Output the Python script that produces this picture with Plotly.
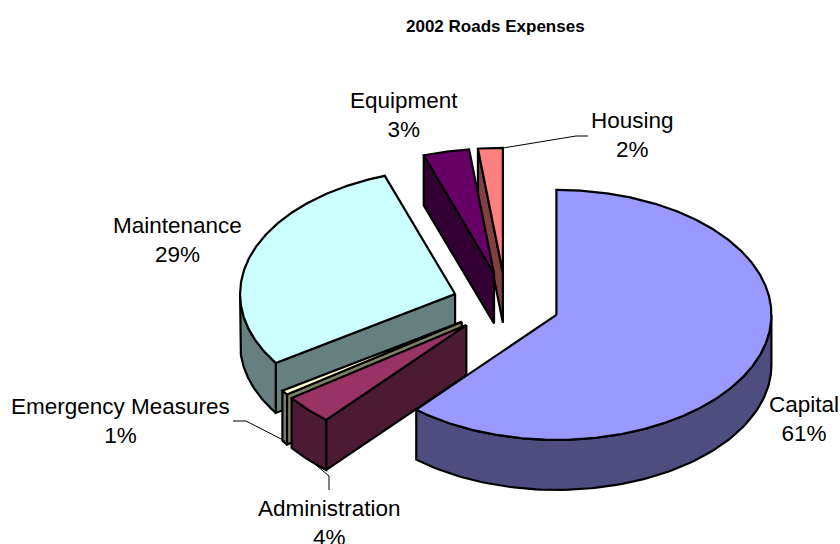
import numpy as np
import plotly.graph_objects as go

categories = ["Capital", "Administration", "Emergency Measures", "Maintenance", "Equipment", "Housing"]
shares = [61.3, 3.8, 0.6, 29.0, 3.45, 1.85]
top_colors = ["#9999FF", "#993366", "#FFFFCC", "#CCFFFF", "#660066", "#FF8080"]
side_colors = ["#4D4D80", "#4D1A33", "#808066", "#668080", "#330033", "#804040"]
draw_order = ["Housing", "Equipment", "Maintenance", "Emergency Measures", "Administration", "Capital"]

label_pos = {"Capital": (804, 419), "Administration": (329, 523), "Emergency Measures": (120, 421),
             "Maintenance": (177, 240), "Equipment": (404, 115), "Housing": (632, 135)}
leaders = {"Housing": ([503, 576, 588], [148, 136, 136]),
           "Emergency Measures": ([233, 246, 285], [421, 421, 441]),
           "Administration": ([329, 329, 310], [490, 476, 460])}

CX, CY, RX, RY, DEPTH, EXPLODE = 506, 304, 215, 125, 50, 0.25

fig = go.Figure()


def poly(xs, ys, color, name):
    fig.add_trace(go.Scatter(x=list(xs), y=list(ys), mode="lines", fill="toself", fillcolor=color,
                             line=dict(color="black", width=2.2), name=name, hoverinfo="name"))


def ell(ax, ay, deg):
    t = np.radians(deg)
    return ax + RX * np.sin(t), ay - RY * np.cos(t)


bounds = np.cumsum([0] + shares) / sum(shares) * 360
index = {c: i for i, c in enumerate(categories)}

for cat in draw_order:
    i = index[cat]
    a0, a1 = bounds[i], bounds[i + 1]
    mid = (a0 + a1) / 2
    ax = CX + EXPLODE * RX * np.sin(np.radians(mid))
    ay = CY - EXPLODE * RY * np.cos(np.radians(mid))
    # radial walls (only those whose interior lies above the edge on screen)
    for edge, inner in ((a0, a0 + 0.5), (a1, a1 - 0.5)):
        px, py = ell(ax, ay, edge)
        mx, my = ell(ax, ay, inner)
        ex, ey = px - ax, py - ay
        down = ex * 1
        inside = ex * (my - ay) - ey * (mx - ax)
        if down * inside < 0 and abs(ex) > 0.5:
            poly([ax, px, px, ax, ax], [ay, py, py + DEPTH, ay + DEPTH, ay], side_colors[i], cat)
    # rim wall: the part of the arc that faces the viewer
    lo, hi = max(a0, 90), min(a1, 270)
    if hi > lo:
        th = np.linspace(lo, hi, 90)
        rx_, ry_ = ell(ax, ay, th)
        poly(np.r_[rx_, rx_[::-1], rx_[0]], np.r_[ry_, ry_[::-1] + DEPTH, ry_[0]], side_colors[i], cat)
    # top face
    th = np.linspace(a0, a1, max(8, int((a1 - a0) * 2)))
    tx, ty = ell(ax, ay, th)
    poly(np.r_[ax, tx, ax], np.r_[ay, ty, ay], top_colors[i], cat)

for cat, (lx, ly) in leaders.items():
    fig.add_trace(go.Scatter(x=lx, y=ly, mode="lines", line=dict(color="black", width=1), hoverinfo="skip"))

for cat, share in zip(categories, shares):
    x, y = label_pos[cat]
    fig.add_annotation(x=x, y=y, text=f"{cat}<br>{round(share)}%", showarrow=False, align="center",
                       font=dict(family="Liberation Sans, Arial", size=22.5, color="black"))

fig.add_annotation(x=495, y=26, text="<b>2002 Roads Expenses</b>", showarrow=False,
                   font=dict(family="Liberation Sans, Arial", size=17, color="black"))

fig.update_layout(width=840, height=544, margin=dict(l=0, r=0, t=0, b=0), showlegend=False,
                  paper_bgcolor="white", plot_bgcolor="white",
                  xaxis=dict(range=[0, 840], visible=False, fixedrange=True),
                  yaxis=dict(range=[544, 0], visible=False, fixedrange=True))
fig.write_html("out.html", config={"displayModeBar": False},
               post_script="document.body.style.margin='0';document.documentElement.style.overflow='hidden';")
